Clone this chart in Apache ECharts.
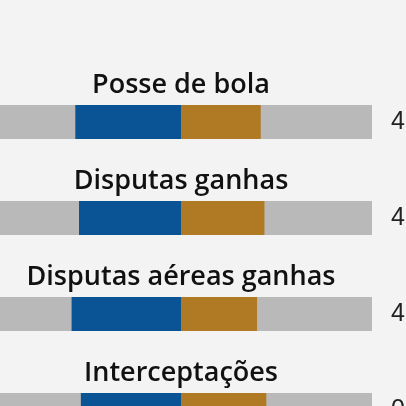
<!DOCTYPE html>
<html>
<head>
<meta charset="utf-8">
<script src="https://cdn.jsdelivr.net/npm/echarts@6/dist/echarts.min.js"></script>
<style>
  html, body { margin: 0; padding: 0; background: #f3f3f3; }
  #chart { width: 406px; height: 406px; }
</style>
</head>
<body>
<div id="chart"></div>
<script>
// categories (top to bottom)
const categories = ['Posse de bola', 'Disputas ganhas', 'Disputas aéreas ganhas', 'Interceptações'];
// share of each side, in %
const blueShare = [57, 55, 59, 54];
const goldShare = [43, 45, 41, 46];
// numbers at the right edge (only first glyph visible in the picture)
const rightLabels = ['4', '4', '4', '0'];

const myChart = echarts.init(document.getElementById('chart'), null, { renderer: 'canvas' });

const option = {
  backgroundColor: '#f3f3f3',
  animation: false,
  grid: { left: -10, right: 34, top: 74, height: 384, outerBoundsMode: 'none', containLabel: false },
  xAxis: {
    type: 'value',
    min: -103,
    max: 103,
    show: false
  },
  yAxis: [
    {
      type: 'category',
      data: categories,
      inverse: true,
      show: false
    },
    {
      type: 'category',
      data: rightLabels,
      inverse: true,
      position: 'right',
      axisLine: { show: false },
      axisTick: { show: false },
      axisLabel: {
        align: 'left',
        margin: 19,
        fontFamily: 'Liberation Sans',
        fontSize: 25,
        color: '#222'
      }
    }
  ],
  series: [
    {
      name: 'blue',
      type: 'bar',
      stack: 'total',
      barWidth: 34,
      showBackground: true,
      backgroundStyle: { color: '#b9b9b9' },
      itemStyle: { color: '#0a5394' },
      data: blueShare.map(v => -v)
    },
    {
      name: 'gold',
      type: 'bar',
      stack: 'total',
      barWidth: 34,
      itemStyle: { color: '#b07a25' },
      data: goldShare
    },
    {
      // category titles centred over the zero line
      type: 'scatter',
      symbolSize: 0,
      silent: true,
      itemStyle: { opacity: 1 },
      data: categories.map(c => ({ name: c, value: [0, c] })),
      label: {
        show: true,
        position: 'inside',
        offset: [0, -37],
        formatter: '{b}',
        fontFamily: 'Open Sans',
        fontWeight: 600,
        fontSize: 27,
        color: '#111'
      }
    }
  ]
};

myChart.setOption(option);
window.addEventListener('resize', myChart.resize);
</script>
</body>
</html>
